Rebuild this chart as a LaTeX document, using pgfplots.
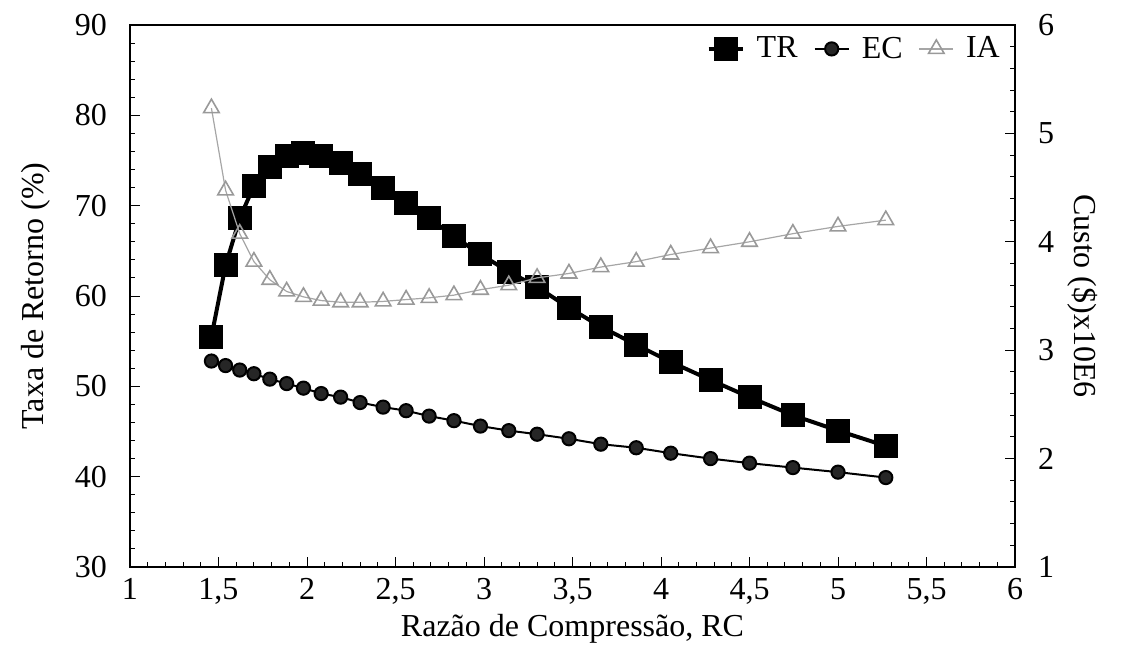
\documentclass[border=0pt]{standalone}
\usepackage{fontspec}
\setmainfont{Liberation Serif}
\usepackage{pgfplots}
\usepackage{pgfplotstable}
\pgfplotsset{compat=1.18}

\pgfplotstableread{
x tr ec ia
1.46 55.5 2.900 5.233
1.54 63.4 2.858 4.475
1.62 68.6 2.817 4.075
1.70 72.2 2.783 3.817
1.79 74.3 2.733 3.650
1.885 75.5 2.692 3.542
1.98 75.8 2.650 3.492
2.08 75.5 2.600 3.458
2.19 74.7 2.567 3.442
2.30 73.5 2.517 3.442
2.43 72.0 2.475 3.450
2.56 70.3 2.442 3.467
2.69 68.6 2.392 3.483
2.83 66.6 2.350 3.508
2.98 64.6 2.300 3.558
3.14 62.7 2.258 3.600
3.30 61.0 2.225 3.667
3.48 58.7 2.183 3.708
3.66 56.6 2.133 3.767
3.86 54.6 2.100 3.817
4.055 52.7 2.050 3.883
4.28 50.7 2.000 3.942
4.50 48.8 1.958 4.000
4.745 46.8 1.917 4.075
5.00 45.1 1.875 4.142
5.27 43.4 1.825 4.200
}\data

\pgfplotsset{
  every axis/.append style={
    font=\fontsize{16}{19}\selectfont,
    /pgf/number format/assume math mode=true,
    /pgf/number format/use comma,
    width=442.5pt, height=271pt, scale only axis,
    xmin=1, xmax=6,
    major tick length=5pt, minor tick length=2.5pt,
    tick style={black, line width=0.5pt},
    axis line style={line width=1pt},
  },
  trstyle/.style={black, line width=2pt, mark=square*, mark size=5pt, mark options={solid, fill=black}},
  ecstyle/.style={black, line width=1pt, mark=*, mark size=3.3pt, mark options={solid, fill=black!85}},
  iastyle/.style={gray!70, line width=0.6pt, mark=triangle, mark size=4.5pt, mark options={solid, gray!80, line width=0.8pt}},
}

\begin{document}
\begin{tikzpicture}
\begin{axis}[
  name=ax,
  ymin=30, ymax=90,
  xtick={1,1.5,...,6},
  ytick={30,40,...,90},
  minor x tick num=4,
  minor y tick num=4,
  xtick pos=bottom, ytick pos=left,
  xticklabel style={/pgf/number format/fixed, /pgf/number format/precision=1, yshift=-2pt},
  yticklabel style={xshift=-8pt},
  xlabel={Razão de Compressão, RC},
  ylabel={Taxa de Retorno (\%)},
  ylabel style={at={(ticklabel cs:0.5)}, yshift=5.5pt},
  xlabel style={yshift=2pt},
]
\addplot[trstyle] table[x=x, y=tr] {\data};
\end{axis}
\begin{axis}[
  ymin=1, ymax=6,
  ytick={1,2,...,6},
  minor y tick num=4,
  axis x line=none,
  axis y line*=right,
  yticklabel style={xshift=8pt},
  ylabel={Custo (\$)x10E6},
  ylabel style={rotate=180, yshift=0pt},
  legend style={draw=none, fill=none, at={(rel axis cs:0.99,0.99)}, anchor=north east,
    legend columns=3, column sep=4pt, inner sep=1pt,
    /tikz/every even column/.append style={column sep=6pt}},
  legend cell align=left,
]
\addlegendimage{trstyle}
\addlegendentry{TR}
\addplot[ecstyle] table[x=x, y=ec] {\data};
\addlegendentry{EC}
\addplot[iastyle] table[x=x, y=ia] {\data};
\addlegendentry{IA}
\end{axis}
\pgfresetboundingbox
\path ([shift={(-65pt,-42.5pt)}]ax.south west) rectangle ([shift={(53pt,12.5pt)}]ax.north east);
\end{tikzpicture}
\end{document}
